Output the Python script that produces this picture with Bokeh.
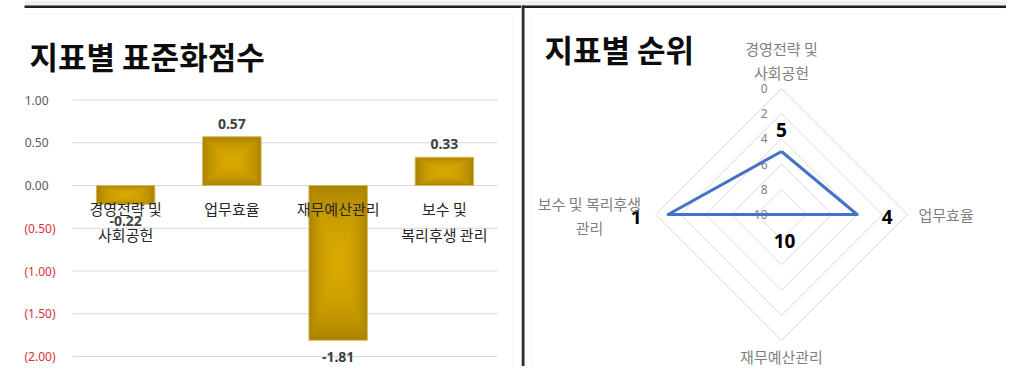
import numpy as np
from bokeh.plotting import figure
from bokeh.models import (ColumnDataSource, Range1d, LinearAxis, FixedTicker,
                          BoxAnnotation, CustomJSTickFormatter)
from bokeh.layouts import row
from bokeh.embed import file_html
from bokeh.resources import INLINE
from bokeh.core.properties import value

# ---------------- data ----------------
categories = ["경영전략 및 사회공헌", "업무효율", "재무예산관리", "보수 및 복리후생 관리"]
bar_labels = ["경영전략 및\n사회공헌", "업무효율", "재무예산관리", "보수 및\n복리후생 관리"]
radar_labels = ["경영전략 및\n사회공헌", "업무효율", "재무예산관리", "보수 및 복리후생\n관리"]
scores = [-0.22, 0.57, -1.81, 0.33]
ranks = [5, 4, 10, 1]
score_ticks = [-2.0, -1.5, -1.0, -0.5, 0.0, 0.5, 1.0]
rank_ticks = [0, 2, 4, 6, 8, 10]
title_left = "지표별 표준화점수"
title_right = "지표별 순위"

KR = "Noto Sans CJK KR"
NUM = "Noto Sans"
GRID = "#d9d9d9"
PANEL = "#dedede"
DARK = "#262626"
H = 366

# ---------------- left: bar chart ----------------
LW = 521          # figure width (px)
FL = 24           # frame left (px)
X0 = 72           # pixel x of category slot 0 left edge
UNIT = 106.25     # px per category slot
ZERO = 185        # pixel y of value 0
PX = 85.5         # px per score unit

def lx(px):
    return (px - X0) / UNIT

def ly(py):
    return (ZERO - py) / PX

p = figure(width=LW, height=H, x_range=Range1d(lx(FL), lx(LW)), y_range=Range1d(ly(H), ly(0)),
           output_backend="svg", toolbar_location=None, x_axis_type=None, y_axis_type=None,
           min_border_left=FL, min_border_right=0, min_border_top=0, min_border_bottom=0,
           background_fill_color="white", border_fill_color="white")
p.outline_line_color = None
p.grid.visible = False

# decorations: top strip and panel border
p.add_layout(BoxAnnotation(left=lx(0), right=lx(LW), top=ly(0), bottom=ly(5),
                           fill_color="#f0f0f0", fill_alpha=1, line_color=None))
p.add_layout(BoxAnnotation(left=lx(0), right=lx(LW), top=ly(5), bottom=ly(7.5),
                           fill_color="#1f1f1f", fill_alpha=1, line_color=None))
p.add_layout(BoxAnnotation(left=lx(13), right=lx(512), top=ly(13), bottom=ly(H + 20),
                           fill_color=None, line_color=PANEL, line_width=1))

fmt = CustomJSTickFormatter(code="return tick < 0 ? '(' + Math.abs(tick).toFixed(2) + ')' : tick.toFixed(2);")
pos_ticks = [t for t in score_ticks if t >= 0]
neg_ticks = [t for t in score_ticks if t < 0]
ax_pos = LinearAxis(ticker=FixedTicker(ticks=pos_ticks), formatter=fmt)
ax_neg = LinearAxis(ticker=FixedTicker(ticks=neg_ticks), formatter=fmt)
p.add_layout(ax_pos, "left")
p.add_layout(ax_neg, "left")
for ax, col in ((ax_pos, "#595959"), (ax_neg, "#d9303a")):
    ax.axis_line_color = None
    ax.major_tick_line_color = None
    ax.minor_tick_line_color = None
    ax.major_tick_out = 0
    ax.major_tick_in = 0
    ax.major_label_text_font = NUM
    ax.major_label_text_font_size = "12px"
    ax.major_label_text_color = col
ax_pos.major_label_standoff = -24
ax_neg.major_label_standoff = -34

# gridlines across the category slots
n = len(categories)
p.segment(x0=[0] * len(score_ticks), x1=[n] * len(score_ticks), y0=score_ticks, y1=score_ticks,
          line_color=GRID, line_width=1)

xs = np.arange(n) + 0.5
src = ColumnDataSource(dict(
    x=xs, score=scores,
    txt=[f"{v:.2f}" for v in scores],
    dy=[-13 if v >= 0 else 17 for v in scores],
))
BW = 0.55
p.vbar(x="x", top="score", bottom=0, width=BW, source=src,
       fill_color="#a98200", line_color=None)
sc = np.array(scores)
for w in np.linspace(0.96, 0.08, 14):
    p.vbar(x=xs, top=sc * (1 + w) / 2, bottom=sc * (1 - w) / 2, width=BW * w,
           fill_color="#eab400", fill_alpha=0.12, line_color=None)
p.vbar(x="x", top="score", bottom=0, width=BW, source=src,
       fill_color=None, line_color="#d9b755", line_width=1)

p.text(x="x", y="score", text="txt", y_offset="dy", source=src,
       text_align="center", text_baseline="middle", text_font=value(NUM),
       text_font_size="14px", text_font_style="bold", text_color="#404040")

l1 = [s.split("\n")[0] for s in bar_labels]
x2 = [x for x, s in zip(xs, bar_labels) if "\n" in s]
l2 = [s.split("\n")[1] for s in bar_labels if "\n" in s]
p.text(x=list(xs), y=[0] * n, text=l1, y_offset=23,
       text_align="center", text_baseline="middle", text_font=value(KR),
       text_font_size="15px", text_color=DARK)
p.text(x=x2, y=[0] * len(x2), text=l2, y_offset=49,
       text_align="center", text_baseline="middle", text_font=value(KR),
       text_font_size="15px", text_color=DARK)

p.text(x=[lx(29)], y=[ly(55)], text=[title_left], text_align="left", text_baseline="middle",
       text_font=value(KR), text_font_size="31px", text_font_style="bold", text_color="#0d0d0d")

# ---------------- right: radar chart ----------------
RW = 1006 - LW
CX, CY = 781 - LW, 214   # centre in figure px
R = 126                  # outer ring radius in px

def rx(px):
    return px - CX

def ry(py):
    return CY - py

q = figure(width=RW, height=H, x_range=Range1d(rx(0), rx(RW)), y_range=Range1d(ry(H), ry(0)),
           output_backend="svg", toolbar_location=None, x_axis_type=None, y_axis_type=None,
           min_border_left=0, min_border_right=0, min_border_top=0, min_border_bottom=0,
           background_fill_color="white", border_fill_color="white")
q.outline_line_color = None
q.grid.visible = False

q.add_layout(BoxAnnotation(left=rx(0), right=rx(RW), top=ry(0), bottom=ry(5),
                           fill_color="#f0f0f0", fill_alpha=1, line_color=None))
q.add_layout(BoxAnnotation(left=rx(0), right=rx(RW), top=ry(5), bottom=ry(7.5),
                           fill_color="#1f1f1f", fill_alpha=1, line_color=None))
q.add_layout(BoxAnnotation(left=rx(10), right=rx(RW + 20), top=ry(13), bottom=ry(H + 20),
                           fill_color=None, line_color=PANEL, line_width=1))
q.add_layout(BoxAnnotation(left=rx(0), right=rx(3), top=ry(5), bottom=ry(H),
                           fill_color="#2b2b2b", fill_alpha=1, line_color=None))

theta = np.pi / 2 - np.arange(n) * 2 * np.pi / n
ux, uy = np.cos(theta), np.sin(theta)

def rad(v):
    return (10 - np.asarray(v, dtype=float)) / 10 * R

ring_ticks = [t for t in rank_ticks if t < 10]
q.multi_line(xs=[list(np.append(rad(t) * ux, rad(t) * ux[0])) for t in ring_ticks],
             ys=[list(np.append(rad(t) * uy, rad(t) * uy[0])) for t in ring_ticks],
             line_color=GRID, line_width=1)

q.text(x=[0] * len(rank_ticks), y=[float(rad(t)) for t in rank_ticks],
       text=[str(t) for t in rank_ticks], x_offset=-14,
       text_align="right", text_baseline="middle", text_font=value(NUM),
       text_font_size="12px", text_color="#808080")

rr = rad(ranks)
vx, vy = rr * ux, rr * uy
q.line(x=list(np.append(vx, vx[0])), y=list(np.append(vy, vy[0])),
       line_color="#4472c4", line_width=3, line_join="round")

gap = {0: (0, -22), 1: (30, 2), 2: (3, 26), 3: (-32, 2)}
q.text(x=list(vx), y=list(vy), text=[str(v) for v in ranks],
       x_offset=[gap[i][0] for i in range(n)], y_offset=[gap[i][1] for i in range(n)],
       text_align="center", text_baseline="middle", text_font=value(NUM),
       text_font_size="19px", text_font_style="bold", text_color="#000000")

lab_style = dict(text_font=value(KR), text_font_size="15px", text_color="#7f7f7f",
                 text_baseline="middle")
t0 = radar_labels[0].split("\n")
q.text(x=[0, 0], y=[R + 40, R + 16], text=t0, text_align="center", **lab_style)
q.text(x=[R + 11], y=[0], text=[radar_labels[1]], text_align="left", **lab_style)
q.text(x=[0], y=[-(R + 16)], text=[radar_labels[2]], text_align="center", **lab_style)
t3 = radar_labels[3].split("\n")
q.text(x=[-(R + 66)] * 2, y=[11, -13], text=t3, text_align="center", **lab_style)

q.text(x=[rx(544 - LW)], y=[ry(48)], text=[title_right], text_align="left", text_baseline="middle",
       text_font=value(KR), text_font_size="31px", text_font_style="bold", text_color="#0d0d0d")

layout = row(p, q, spacing=0)
open("out.html", "w").write(file_html(layout, INLINE))
